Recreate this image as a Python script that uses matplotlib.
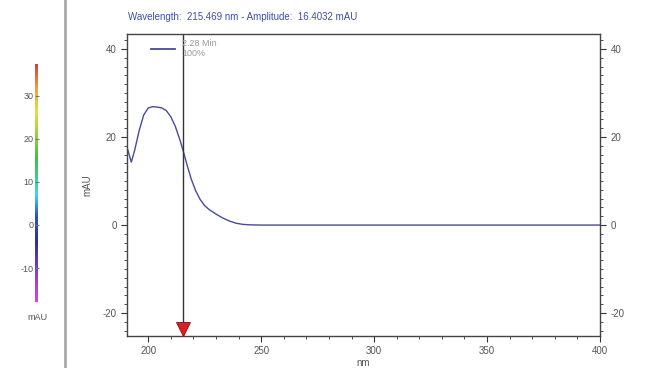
import numpy as np
import matplotlib
matplotlib.use("Agg")
import matplotlib.pyplot as plt
from matplotlib.colors import LinearSegmentedColormap
from matplotlib.ticker import MultipleLocator

plt.rcParams['font.family'] = ['Liberation Sans', 'DejaVu Sans']
plt.rcParams['axes.unicode_minus'] = False

# spectrum at 2.28 min
wavelength = [190, 191, 192.5, 194, 196, 198, 200, 202, 204, 206, 208, 210, 212, 214,
              215.5, 217, 219, 221, 223, 225, 227, 230, 233, 236, 239, 242, 245, 250,
              270, 300, 350, 400]
amplitude = [18.5, 17.0, 14.3, 17.0, 21.5, 25.0, 26.6, 26.9, 26.8, 26.6, 26.0, 24.6, 22.4, 19.4,
             16.8, 14.0, 10.5, 7.8, 5.8, 4.4, 3.5, 2.5, 1.6, 0.9, 0.4, 0.15, 0.05, 0.0,
             0.0, 0.0, 0.0, 0.0]

cursor_nm = 215.469
cursor_amp = 16.4032
x_ticks = [200, 250, 300, 350, 400]
y_ticks = [-20, 0, 20, 40]
cbar_ticks = [-10, 0, 10, 20, 30]

W, H = 648, 368
fig = plt.figure(figsize=(W / 100, H / 100), dpi=100)
fig.patch.set_facecolor('white')

def fx(px):
    return px / W

def fy(py):
    return 1 - py / H

tick_col = '#555555'
line_col = '#4a4a9a'

# main plot
ax = fig.add_axes([fx(127), fy(336), fx(600 - 127), (336 - 34) / H])
ax.plot(wavelength, amplitude, color=line_col, lw=1)
ax.set_xlim(190.6, 400)
ax.set_ylim(-25.2, 43.4)
ax.set_xticks(x_ticks)
ax.set_yticks(y_ticks)
ax.xaxis.set_minor_locator(MultipleLocator(10))
ax.yaxis.set_minor_locator(MultipleLocator(2))
ax.tick_params(which='both', direction='out', right=True, labelright=True,
               labelsize=7, labelcolor=tick_col, color='#333333')
ax.tick_params(which='major', length=4)
ax.tick_params(which='minor', length=2.5)
for s in ax.spines.values():
    s.set_color('#444444')
    s.set_linewidth(1)
ax.set_xlabel('nm', fontsize=7, color=tick_col, labelpad=1)

# cursor
ax.axvline(cursor_nm, color='#333333', lw=1)
ax.plot([cursor_nm], [-23.6], marker='v', markersize=10, color='#e01c24',
        markeredgecolor='#8a1010', markeredgewidth=0.6, clip_on=False)

# legend
ax.plot([201.3, 212], [40, 40], color=line_col, lw=1.3)
ax.text(fx(182), fy(43), '2.28 Min', transform=fig.transFigure, fontsize=6.5,
        color='#999999', va='center')
ax.text(fx(182), fy(53), '100%', transform=fig.transFigure, fontsize=6.5,
        color='#999999', va='center')

fig.text(fx(128), fy(17), 'Wavelength:  %.3f nm - Amplitude:  %.4f mAU' % (cursor_nm, cursor_amp),
         fontsize=7, color='#3a50b0', va='center')
fig.text(fx(87), fy(185), 'mAU', rotation=90, fontsize=7, color=tick_col,
         ha='center', va='center')

# separator
fig.add_artist(plt.Line2D([fx(65), fx(65)], [0, 1], color='#a8a8a8', lw=2,
                          transform=fig.transFigure))

# colour bar
cmap = LinearSegmentedColormap.from_list('spec', [
    (0.0, '#e040e0'), (0.12, '#8a40c8'), (0.25, '#303090'), (0.36, '#3050c0'),
    (0.45, '#40d8e0'), (0.6, '#40c040'), (0.8, '#e8e040'), (0.9, '#f0a040'),
    (1.0, '#d04040')])
cax = fig.add_axes([fx(35), fy(302), fx(3), (302 - 64) / H])
cax.imshow(np.linspace(0, 1, 256).reshape(-1, 1), aspect='auto', cmap=cmap,
           origin='lower', extent=[0, 1, -17.9, 37.4])
cax.set_xlim(0, 1)
cax.set_ylim(-17.9, 37.4)
cax.set_xticks([])
cax.set_yticks(cbar_ticks)
cax.tick_params(axis='y', direction='in', length=3, labelsize=6.5,
                labelcolor=tick_col, color='#777777', pad=1)
for s in cax.spines.values():
    s.set_visible(False)
fig.text(fx(37), fy(318), 'mAU', fontsize=6.5, color=tick_col, ha='center', va='center')

fig.savefig('out.png', dpi=100)
